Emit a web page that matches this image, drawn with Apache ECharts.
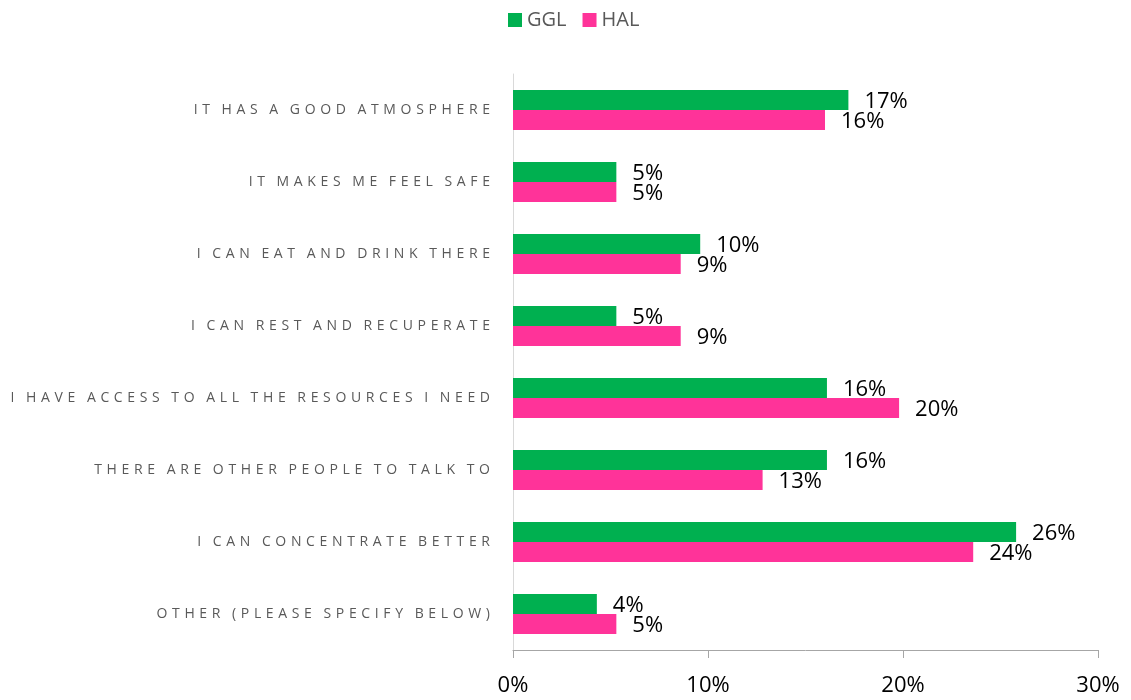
<!DOCTYPE html>
<html>
<head>
<meta charset="utf-8">
<script src="https://cdn.jsdelivr.net/npm/echarts@6/dist/echarts.min.js"></script>
<style>
  html, body { margin: 0; padding: 0; background: #fff; }
  #chart { width: 1131px; height: 700px; }
</style>
</head>
<body>
<div id="chart"></div>
<script>
const categories = [
  'IT HAS A GOOD ATMOSPHERE',
  'IT MAKES ME FEEL SAFE',
  'I CAN EAT AND DRINK THERE',
  'I CAN REST AND RECUPERATE',
  'I HAVE ACCESS TO ALL THE RESOURCES I NEED',
  'THERE ARE OTHER PEOPLE TO TALK TO',
  'I CAN CONCENTRATE BETTER',
  'OTHER (PLEASE SPECIFY BELOW)'
]
const gglValues = [17.2, 5.3, 9.6, 5.3, 16.1, 16.1, 25.8, 4.3]
const halValues = [16.0, 5.3, 8.6, 8.6, 19.8, 12.8, 23.6, 5.3]
const xTicks = [0, 10, 20, 30]

// canvas text has no letter spacing, so pad with thin spaces
const spaced = (s) => s.split('').map((c) => (c === ' ' ? '\u2009' : c)).join('\u2009\u2009')

const chart = echarts.init(document.getElementById('chart'))

const labelStyle = {
  show: true,
  position: 'right',
  distance: 16,
  offset: [0, 2],
  color: '#000',
  fontSize: 22,
  fontFamily: 'Open Sans',
  formatter: (p) => Math.round(p.value) + '%'
}

chart.setOption({
  animation: false,
  legend: {
    top: 5,
    left: 503,
    itemWidth: 14,
    itemHeight: 14,
    itemGap: 16,
    icon: 'rect',
    textStyle: { color: '#595959', fontSize: 20, fontFamily: 'Open Sans' },
    data: ['GGL', 'HAL']
  },
  grid: { left: 513, right: 33, top: 74, bottom: 50, outerBoundsMode: 'none', containLabel: false },
  xAxis: {
    type: 'value',
    min: xTicks[0],
    max: xTicks[xTicks.length - 1],
    interval: 10,
    splitLine: { show: false },
    axisLine: { show: true, lineStyle: { color: '#A6A6A6', width: 1 } },
    axisTick: { show: true, length: 8, lineStyle: { color: '#A6A6A6' } },
    axisLabel: {
      margin: 25,
      color: '#000',
      fontSize: 22,
      fontFamily: 'Open Sans',
      formatter: '{value}%'
    }
  },
  yAxis: {
    type: 'category',
    inverse: true,
    data: categories,
    axisLine: { show: true, lineStyle: { color: '#D9D9D9', width: 1 } },
    axisTick: { show: false },
    axisLabel: {
      margin: 23,
      color: '#595959',
      fontSize: 14,
      fontFamily: 'Open Sans',
      formatter: spaced
    }
  },
  series: [
    {
      name: 'GGL',
      type: 'bar',
      barWidth: 20,
      barGap: '0%',
      itemStyle: { color: '#00B050' },
      label: labelStyle,
      data: gglValues
    },
    {
      name: 'HAL',
      type: 'bar',
      barWidth: 20,
      barGap: '0%',
      itemStyle: { color: '#FF3399' },
      label: labelStyle,
      data: halValues
    }
  ]
})
</script>
</body>
</html>
